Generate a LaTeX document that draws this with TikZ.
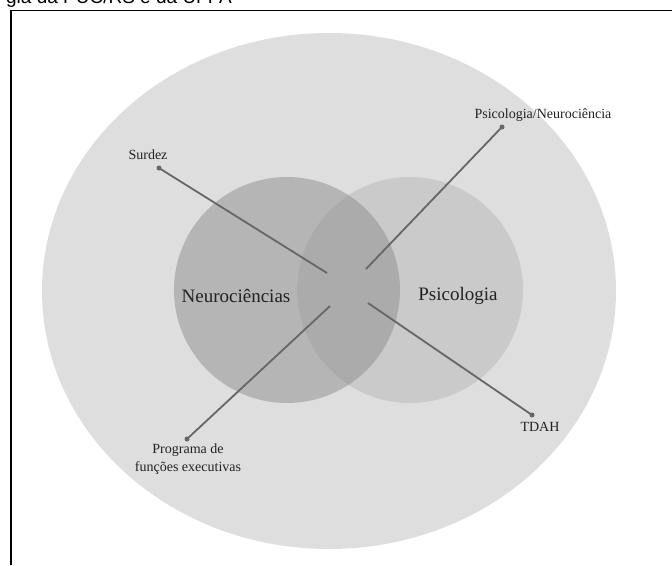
\documentclass[tikz,border=0pt]{standalone}
\usepackage{fontspec}
\setmainfont{Liberation Serif}
\newfontfamily\captionfont{Liberation Sans}
\definecolor{outerfill}{HTML}{DEDEDE}
\definecolor{neurofill}{HTML}{B5B5B5}
\definecolor{psicofill}{HTML}{CACACA}
\definecolor{bothfill}{HTML}{ABABAB}
\definecolor{linkgray}{HTML}{666666}
\definecolor{textgray}{HTML}{222222}
\begin{document}
\begin{tikzpicture}[x=1pt,y=-1pt,
  leader/.style={draw=linkgray, line width=1.8pt},
  tipdot/.style={circle, fill=linkgray, inner sep=0pt, minimum size=5pt},
  smalllabel/.style={font=\fontsize{14}{18}\selectfont, text=textgray, align=center, inner sep=0pt},
  biglabel/.style={font=\fontsize{19}{22}\selectfont, text=textgray, inner sep=0pt}]
\useasboundingbox (0,0) rectangle (672,565);

% caption running in from above
\begin{scope}
  \clip (0,0) rectangle (672,565);
  \node[anchor=base east, inner sep=0pt, font=\captionfont\fontsize{19}{22}\selectfont] (cap) at (232,3) {gia da PUC/RS e da UFPA};
\end{scope}

% frame corner
\draw[line width=1.6pt] (11,565) |- (672,10.5);

% circles
\fill[outerfill] (329,291) ellipse [x radius=287pt, y radius=258pt];
\fill[neurofill] (287,290) circle (113pt);
\fill[psicofill] (410,290) circle (113pt);
\begin{scope}
  \clip (287,290) circle (113pt);
  \fill[bothfill] (410,290) circle (113pt);
\end{scope}

% area labels
\node[biglabel] (neuro) at (236,296) {Neurociências};
\node[biglabel] (psico) at (458,296) {Psicologia};

% leader end points
\coordinate (cSurdez) at (327,273);
\coordinate (cPsiNeu) at (366,269);
\coordinate (cProg) at (330,306);
\coordinate (cTdah) at (368,303);

\node[tipdot] (dSurdez) at (159,168) {};
\node[tipdot] (dPsiNeu) at (502,127) {};
\node[tipdot] (dProg) at (187,439) {};
\node[tipdot] (dTdah) at (532,415) {};

\draw[leader] (dSurdez.center) -- (cSurdez);
\draw[leader] (dPsiNeu.center) -- (cPsiNeu);
\draw[leader] (dProg.center) -- (cProg);
\draw[leader] (dTdah.center) -- (cTdah);

% topic labels
\node[smalllabel] (lSurdez) at (148,155) {Surdez};
\node[smalllabel] (lPsiNeu) at (543,115) {Psicologia/Neurociência};
\node[smalllabel] (lProg) at (188,459) {Programa de\\funções executivas};
\node[smalllabel] (lTdah) at (540,427) {TDAH};
\end{tikzpicture}
\end{document}
